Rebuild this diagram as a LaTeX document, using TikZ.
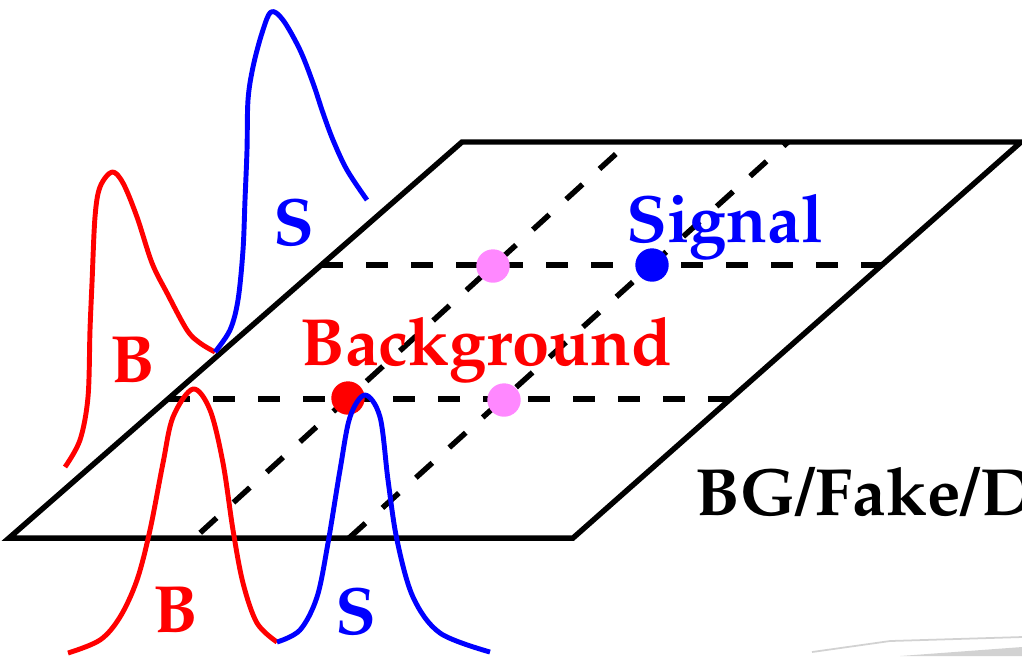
\documentclass[tikz,border=0pt]{standalone}
\usepackage[T1]{fontenc}
\usepackage{mathpazo}
\usepackage{tikz}

\definecolor{pinkdot}{RGB}{255,136,255}

\begin{document}
\begin{tikzpicture}[x=0.01cm, y=-0.01cm,
    plane/.style={line width=1.55pt, line join=miter},
    cut/.style={line width=1.55pt, dash pattern=on 6.3pt off 6.5pt},
    pdf/.style={line width=1.4pt, line join=round},
    dot/.style={circle, inner sep=0pt, minimum size=9.5pt},
    lbl/.style={font=\fontsize{19}{22}\selectfont\bfseries, inner sep=0pt, anchor=base west}]
    \useasboundingbox (0,0) rectangle (1022,656);
    \coordinate (pa) at (9,538);
    \coordinate (pb) at (573,538);
    \coordinate (pc) at (1021,142);
    \coordinate (pd) at (462,142);
    \draw[plane] (pa) -- (pb) -- (pc) -- (pd) -- cycle;
    \draw[cut] (321,265) -- (885,265);
    \draw[cut] (168,399) -- (732,399);
    \draw[cut, dash phase=10.6pt] (194.5,538) -- (629,142);
    \draw[cut] (349,538) -- (788,142);
    \node[dot, fill=pinkdot] (mixa) at (493,266) {};
    \node[dot, fill=pinkdot] (mixb) at (504,400) {};
    \node[dot, fill=blue] (sig) at (652,265) {};
    \node[dot, fill=red] (bkg) at (348,398) {};
    \draw[pdf, red] plot[smooth, tension=0.55] coordinates {(65,467) (80,440) (88,397) (90,330) (92,283) (95,217) (100,187) (112,172) (123,183) (137,217) (152,263) (167,293) (187,330) (200,343) (215,352)};
    \draw[pdf, blue] plot[smooth, tension=0.55] coordinates {(215,352) (230,330) (238,300) (243,250) (245,200) (247,150) (248,100) (253,67) (262,33) (271,12) (283,20) (300,50) (313,83) (323,113) (333,140) (347,170) (367,200)};
    \draw[pdf, red] plot[smooth, tension=0.55] coordinates {(68,653) (100,640) (120,617) (137,580) (150,530) (163,463) (173,417) (193,389) (210,410) (223,463) (233,530) (243,583) (257,623) (277,642)};
    \draw[pdf, blue] plot[smooth, tension=0.55] coordinates {(277,642) (300,630) (317,597) (328,543) (340,470) (350,417) (365,395) (380,417) (388,480) (397,540) (413,597) (440,633) (490,652)};
    \node[lbl, blue] (s1) at (273,245) {S};
    \node[lbl, red] (b1) at (110,382) {B};
    \node[lbl, red] (b2) at (153,632) {B};
    \node[lbl, blue] (s2) at (335,634) {S};
    \node[lbl, blue] (sigtxt) at (626,242) {Signal};
    \node[lbl, red] (bkgtxt) at (300,365) {Background};
    \node[lbl] (axis) at (695,515) {BG/Fake/D};
    \draw[gray!35, line width=0.5pt] (812,652) -- (890,641) -- (1022,637);
    \fill[gray!35] (900,656) -- (1022,647) -- (1022,656) -- cycle;
\end{tikzpicture}
\end{document}
